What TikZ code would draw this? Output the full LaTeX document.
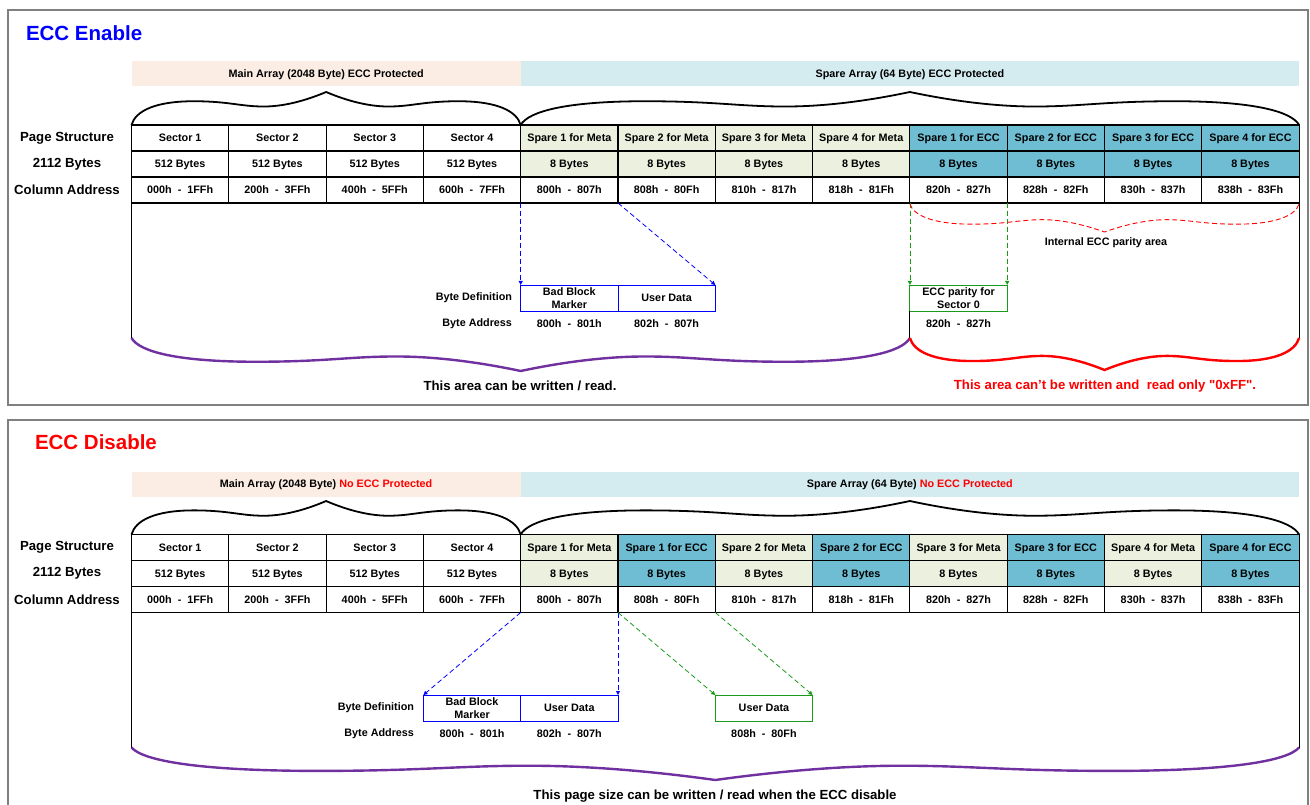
\documentclass[tikz,border=0pt]{standalone}
\usepackage{fontspec}
\setmainfont{Liberation Sans}
\usetikzlibrary{arrows.meta}

\begin{document}
\begin{tikzpicture}[x=1pt, y=-1pt,
  every node/.style={font=\fontsize{10.8}{13}\selectfont\bfseries, inner sep=0pt, outer sep=0pt},
  cell/.style={draw, line width=1.1pt, minimum width=97.3pt, minimum height=26pt, text height=9pt, text depth=1.3pt},
  meta/.style={cell, fill=metafill},
  ecc/.style={cell, fill=eccfill},
  band/.style={minimum height=25pt, text height=9pt, text depth=1.3pt},
  rowlabel/.style={font=\fontsize{13.2}{15}\selectfont\bfseries},
  heading/.style={anchor=west, font=\fontsize{20.5}{24}\selectfont\bfseries},
  caption/.style={font=\fontsize{13.2}{15}\selectfont\bfseries},
  bytebox/.style={draw=#1, line width=0.9pt, minimum width=97.3pt, minimum height=26pt, align=center},
  link/.style={draw=#1, line width=0.8pt, dash pattern=on 5pt off 3pt, -{Triangle[length=4pt,width=4pt]}},
  frame/.style={draw=framegray, line width=2pt},
  wavebrace/.pic={
    \draw [pic actions] (0,0) .. controls (0.02,0.42) and (0.12,0.72) .. (0.32,0.72)
      .. controls (0.5,0.72) and (0.56,0.56) .. (0.68,0.56)
      .. controls (0.8,0.56) and (0.92,0.8) .. (1,1)
      .. controls (1.08,0.8) and (1.2,0.56) .. (1.32,0.56)
      .. controls (1.44,0.56) and (1.5,0.72) .. (1.68,0.72)
      .. controls (1.88,0.72) and (1.98,0.42) .. (2,0);
  }
]
\definecolor{peach}{HTML}{FBEDE4}
\definecolor{paleblue}{HTML}{D4EBF0}
\definecolor{metafill}{HTML}{EBF0DF}
\definecolor{eccfill}{HTML}{6FBDD2}
\definecolor{framegray}{HTML}{808080}
\definecolor{areapurple}{HTML}{7030A0}
\definecolor{linkgreen}{HTML}{1A9A1A}
\definecolor{titleblue}{HTML}{0000FF}

\useasboundingbox (0,0) rectangle (1310,805);
\clip (0,0) rectangle (1310,805);

\draw [frame] (8,10) rectangle (1308,405);
\node [heading, text=titleblue] (etitle) at (26,33) {ECC Enable};
\node [band, fill=peach, minimum width=389.2pt] (emain) at (326.1,74) {Main Array (2048 Byte) ECC Protected};
\node [band, fill=paleblue, minimum width=778.4pt] (espare) at (909.9,74) {Spare Array (64 Byte) ECC Protected};
\pic [draw, line width=1.8pt, xscale=194.6, yscale=-33] at (131.5,125) {wavebrace};
\pic [draw, line width=1.8pt, xscale=389.2, yscale=-33] at (520.7,125) {wavebrace};

\node [rowlabel] (elab1) at (67,138) {Page Structure};
\node [rowlabel] (elab2) at (67,164) {2112 Bytes};
\node [rowlabel] (elab3) at (67,190) {Column Address};

\node [cell] (es1) at (180.15,138) {Sector 1};
\node [cell] (es2) at (277.45,138) {Sector 2};
\node [cell] (es3) at (374.75,138) {Sector 3};
\node [cell] (es4) at (472.05,138) {Sector 4};
\node [meta] (es5) at (569.35,138) {Spare 1 for Meta};
\node [meta] (es6) at (666.65,138) {Spare 2 for Meta};
\node [meta] (es7) at (763.95,138) {Spare 3 for Meta};
\node [meta] (es8) at (861.25,138) {Spare 4 for Meta};
\node [ecc] (es9) at (958.55,138) {Spare 1 for ECC};
\node [ecc] (es10) at (1055.85,138) {Spare 2 for ECC};
\node [ecc] (es11) at (1153.15,138) {Spare 3 for ECC};
\node [ecc] (es12) at (1250.45,138) {Spare 4 for ECC};

\node [cell] (eb1) at (180.15,164) {512 Bytes};
\node [cell] (eb2) at (277.45,164) {512 Bytes};
\node [cell] (eb3) at (374.75,164) {512 Bytes};
\node [cell] (eb4) at (472.05,164) {512 Bytes};
\node [meta] (eb5) at (569.35,164) {8 Bytes};
\node [meta] (eb6) at (666.65,164) {8 Bytes};
\node [meta] (eb7) at (763.95,164) {8 Bytes};
\node [meta] (eb8) at (861.25,164) {8 Bytes};
\node [ecc] (eb9) at (958.55,164) {8 Bytes};
\node [ecc] (eb10) at (1055.85,164) {8 Bytes};
\node [ecc] (eb11) at (1153.15,164) {8 Bytes};
\node [ecc] (eb12) at (1250.45,164) {8 Bytes};

\node [cell] (ec1) at (180.15,190) {000h~~-~~1FFh};
\node [cell] (ec2) at (277.45,190) {200h~~-~~3FFh};
\node [cell] (ec3) at (374.75,190) {400h~~-~~5FFh};
\node [cell] (ec4) at (472.05,190) {600h~~-~~7FFh};
\node [cell] (ec5) at (569.35,190) {800h~~-~~807h};
\node [cell] (ec6) at (666.65,190) {808h~~-~~80Fh};
\node [cell] (ec7) at (763.95,190) {810h~~-~~817h};
\node [cell] (ec8) at (861.25,190) {818h~~-~~81Fh};
\node [cell] (ec9) at (958.55,190) {820h~~-~~827h};
\node [cell] (ec10) at (1055.85,190) {828h~~-~~82Fh};
\node [cell] (ec11) at (1153.15,190) {830h~~-~~837h};
\node [cell] (ec12) at (1250.45,190) {838h~~-~~83Fh};

\coordinate (eleft) at (131.5,338);
\coordinate (emid) at (ec9.south west |- eleft);
\coordinate (eright) at (ec12.south east |- eleft);
\draw [line width=1.1pt] (ec1.south west) -- (eleft);
\draw [line width=1.1pt] (ec12.south east) -- (eright);

\node [anchor=east] (edef) at (512,298) {Byte Definition};
\node [anchor=east] (eaddr) at (512,324) {Byte Address};
\node [bytebox=blue] (ebbm) at (569.35,298) {Bad Block\\Marker};
\node [bytebox=blue] (eud) at (666.65,298) {User Data};
\node [bytebox=linkgreen] (epar) at (958.55,298) {ECC parity for\\Sector 0};
\node (ea1) at (569.35,324) {800h~~-~~801h};
\node (ea2) at (666.65,324) {802h~~-~~807h};
\node (ea3) at (958.55,324) {820h~~-~~827h};
\draw [link=blue] (ec5.south west) -- (ebbm.north west);
\draw [link=blue] (ec5.south east) -- (eud.north east);
\draw [link=linkgreen] (ec9.south west) -- (epar.north west);
\draw [link=linkgreen] (ec9.south east) -- (epar.north east);
\draw [line width=1.1pt] (epar.south west) -- (emid);

\pic [draw=red, line width=0.9pt, dash pattern=on 5pt off 3pt, xscale=194.6, yscale=28] at (909.9,204) {wavebrace};
\node (einternal) at (1106,243) {Internal ECC parity area};

\pic [draw=areapurple, line width=2.4pt, xscale=389.2, yscale=33] at (eleft) {wavebrace};
\pic [draw=red, line width=2.4pt, xscale=194.6, yscale=32] at (emid) {wavebrace};
\node [caption] (ecap1) at (520,386) {This area can be written / read.};
\node [caption, text=red] (ecap2) at (1105,386) {This area can’t be written and~ read only \textquotedbl 0xFF\textquotedbl.};

\draw [frame] (8,420) rectangle (1308,815);
\node [heading, text=red] (dtitle) at (35,442.5) {ECC Disable};
\node [band, fill=peach, minimum width=389.2pt] (dmain) at (326.1,484) {Main Array (2048 Byte) \textcolor{red}{No ECC Protected}};
\node [band, fill=paleblue, minimum width=778.4pt] (dspare) at (909.9,484) {Spare Array (64 Byte) \textcolor{red}{No ECC Protected}};
\pic [draw, line width=1.8pt, xscale=194.6, yscale=-33.5] at (131.5,534.5) {wavebrace};
\pic [draw, line width=1.8pt, xscale=389.2, yscale=-33.5] at (520.7,534.5) {wavebrace};

\node [rowlabel] (dlab1) at (67,547.5) {Page Structure};
\node [rowlabel] (dlab2) at (67,573.5) {2112 Bytes};
\node [rowlabel] (dlab3) at (67,599.5) {Column Address};

\node [cell] (ds1) at (180.15,547.5) {Sector 1};
\node [cell] (ds2) at (277.45,547.5) {Sector 2};
\node [cell] (ds3) at (374.75,547.5) {Sector 3};
\node [cell] (ds4) at (472.05,547.5) {Sector 4};
\node [meta] (ds5) at (569.35,547.5) {Spare 1 for Meta};
\node [ecc] (ds6) at (666.65,547.5) {Spare 1 for ECC};
\node [meta] (ds7) at (763.95,547.5) {Spare 2 for Meta};
\node [ecc] (ds8) at (861.25,547.5) {Spare 2 for ECC};
\node [meta] (ds9) at (958.55,547.5) {Spare 3 for Meta};
\node [ecc] (ds10) at (1055.85,547.5) {Spare 3 for ECC};
\node [meta] (ds11) at (1153.15,547.5) {Spare 4 for Meta};
\node [ecc] (ds12) at (1250.45,547.5) {Spare 4 for ECC};

\node [cell] (db1) at (180.15,573.5) {512 Bytes};
\node [cell] (db2) at (277.45,573.5) {512 Bytes};
\node [cell] (db3) at (374.75,573.5) {512 Bytes};
\node [cell] (db4) at (472.05,573.5) {512 Bytes};
\node [meta] (db5) at (569.35,573.5) {8 Bytes};
\node [ecc] (db6) at (666.65,573.5) {8 Bytes};
\node [meta] (db7) at (763.95,573.5) {8 Bytes};
\node [ecc] (db8) at (861.25,573.5) {8 Bytes};
\node [meta] (db9) at (958.55,573.5) {8 Bytes};
\node [ecc] (db10) at (1055.85,573.5) {8 Bytes};
\node [meta] (db11) at (1153.15,573.5) {8 Bytes};
\node [ecc] (db12) at (1250.45,573.5) {8 Bytes};

\node [cell] (dc1) at (180.15,599.5) {000h~~-~~1FFh};
\node [cell] (dc2) at (277.45,599.5) {200h~~-~~3FFh};
\node [cell] (dc3) at (374.75,599.5) {400h~~-~~5FFh};
\node [cell] (dc4) at (472.05,599.5) {600h~~-~~7FFh};
\node [cell] (dc5) at (569.35,599.5) {800h~~-~~807h};
\node [cell] (dc6) at (666.65,599.5) {808h~~-~~80Fh};
\node [cell] (dc7) at (763.95,599.5) {810h~~-~~817h};
\node [cell] (dc8) at (861.25,599.5) {818h~~-~~81Fh};
\node [cell] (dc9) at (958.55,599.5) {820h~~-~~827h};
\node [cell] (dc10) at (1055.85,599.5) {828h~~-~~82Fh};
\node [cell] (dc11) at (1153.15,599.5) {830h~~-~~837h};
\node [cell] (dc12) at (1250.45,599.5) {838h~~-~~83Fh};

\coordinate (dleft) at (131.5,747.5);
\coordinate (dright) at (dc12.south east |- dleft);
\draw [line width=1.1pt] (dc1.south west) -- (dleft);
\draw [line width=1.1pt] (dc12.south east) -- (dright);

\node [anchor=east] (ddef) at (414,708) {Byte Definition};
\node [anchor=east] (daddr) at (414,734) {Byte Address};
\node [bytebox=blue] (dbbm) at (472.05,708) {Bad Block\\Marker};
\node [bytebox=blue] (dud) at (569.35,708) {User Data};
\node [bytebox=linkgreen] (dud2) at (763.95,708) {User Data};
\node (da1) at (472.05,734) {800h~~-~~801h};
\node (da2) at (569.35,734) {802h~~-~~807h};
\node (da3) at (763.95,734) {808h~~-~~80Fh};
\draw [link=blue] (dc5.south west) -- (dbbm.north west);
\draw [link=blue] (dc5.south east) -- (dud.north east);
\draw [link=linkgreen] (dc6.south west) -- (dud2.north west);
\draw [link=linkgreen] (dc6.south east) -- (dud2.north east);

\pic [draw=areapurple, line width=2.4pt, xscale=583.8, yscale=32.5] at (dleft) {wavebrace};
\node [caption] (dcap) at (715,796) {This page size can be written / read when the ECC disable};
\end{tikzpicture}
\end{document}
